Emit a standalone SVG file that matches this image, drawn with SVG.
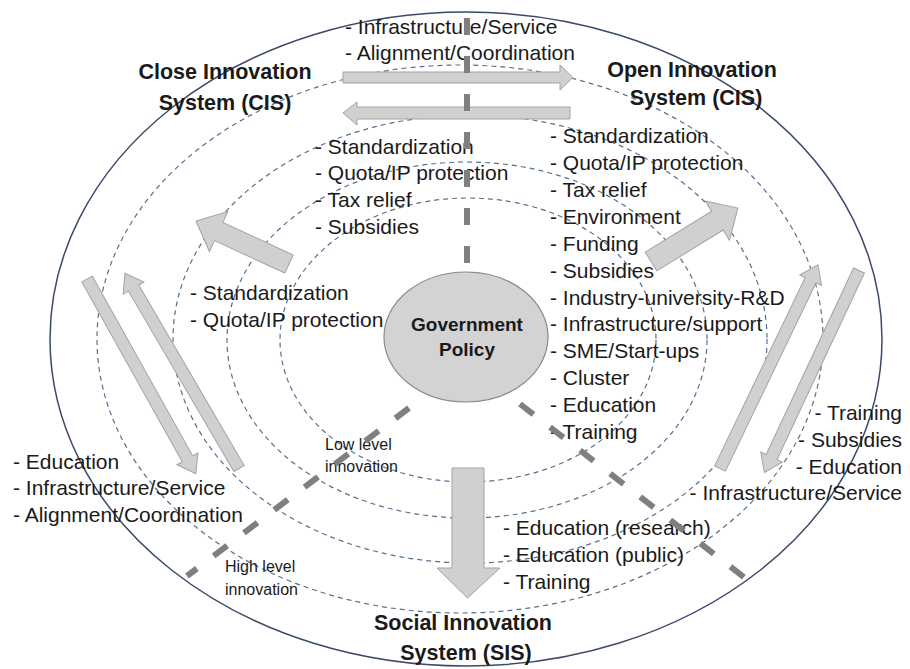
<svg xmlns="http://www.w3.org/2000/svg" width="910" height="669" viewBox="0 0 910 669">
<style>
.t{font-family:"Liberation Sans",Arial,sans-serif;font-size:21px;fill:#1a1a1a}
.b{font-weight:bold;font-size:21.5px;text-anchor:middle}
.g{font-weight:bold;font-size:19px;text-anchor:middle}
.s{font-size:16px}
.e{text-anchor:end}
.arr{fill:#d0d0d0;stroke:#a3a3a3;stroke-width:1}
.ring{fill:none;stroke:#56708f;stroke-width:1.2;stroke-dasharray:5 4}
.axis{fill:none;stroke:#7f7f7f;stroke-width:6;stroke-dasharray:17 21}
</style>
<rect width="910" height="669" fill="#ffffff"/>
<g id="rings">
<ellipse cx="466" cy="339" rx="416" ry="327" fill="none" stroke="#3b4a6b" stroke-width="1.5"/>
<ellipse class="ring" cx="460" cy="339" rx="363" ry="274"/>
<ellipse class="ring" cx="470" cy="339" rx="297" ry="224"/>
<ellipse class="ring" cx="467" cy="340" rx="240" ry="178"/>
<ellipse class="ring" cx="468" cy="340" rx="188" ry="142"/>
</g>
<g id="connectors">
<polygon class="arr" points="343,72 560,72 560,65 573,77.5 560,90 560,83 343,83"/>
<polygon class="arr" points="570,107 357,107 357,102 343,113 357,125 357,119 570,119"/>
<polygon class="arr" transform="translate(289,264) rotate(204.8)" points="0,-10 77.5,-10 77.5,-22 102.5,0 77.5,22 77.5,10 0,10"/>
<polygon class="arr" transform="translate(651,261.5) rotate(-31.6)" points="0,-11 78,-11 78,-23 102,0 78,23 78,11 0,11"/>
<polygon class="arr" transform="translate(87,279) rotate(60.8)" points="0,-6 206,-6 206,-12 223,0 206,12 206,6 0,6"/>
<polygon class="arr" transform="translate(239,468.5) rotate(239.7)" points="0,-6 209,-6 209,-12 226,0 209,12 209,6 0,6"/>
<polygon class="arr" transform="translate(720,468.5) rotate(-64.3)" points="0,-6 209,-6 209,-12 226,0 209,12 209,6 0,6"/>
<polygon class="arr" transform="translate(859,270.5) rotate(115.1)" points="0,-6 206,-6 206,-12 223,0 206,12 206,6 0,6"/>
<polygon class="arr" points="452,468 484,468 484,568 500,568 467.5,598 437,568 452,568"/>
</g>
<g id="gov">
<ellipse cx="466" cy="337" rx="82" ry="65" fill="#d3d3d3" stroke="#8a8a8a" stroke-width="1.2"/>
<text class="t g" x="467" y="331">Government</text>
<text class="t g" x="467" y="356">Policy</text>
</g>
<g id="cis-close">
<text class="t b" x="225" y="79">Close Innovation</text>
<text class="t b" x="225" y="110">System (CIS)</text>
</g>
<g id="cis-open">
<text class="t b" x="692" y="77">Open Innovation</text>
<text class="t b" x="696" y="105">System (CIS)</text>
</g>
<g id="sis">
<text class="t b" x="463" y="630">Social Innovation</text>
<text class="t b" x="466" y="660">System (SIS)</text>
</g>
<g id="labels">
<text class="t" x="345" y="34">- Infrastructure/Service</text>
<text class="t" x="345" y="60">- Alignment/Coordination</text>
<text class="t" x="315" y="154">- Standardization</text>
<text class="t" x="315" y="180">- Quota/IP protection</text>
<text class="t" x="315" y="207">- Tax relief</text>
<text class="t" x="315" y="234">- Subsidies</text>
<text class="t" x="550" y="143">- Standardization</text>
<text class="t" x="550" y="170">- Quota/IP protection</text>
<text class="t" x="550" y="197">- Tax relief</text>
<text class="t" x="550" y="224">- Environment</text>
<text class="t" x="550" y="251">- Funding</text>
<text class="t" x="550" y="278">- Subsidies</text>
<text class="t" x="550" y="305">- Industry-university-R&amp;D</text>
<text class="t" x="550" y="331">- Infrastructure/support</text>
<text class="t" x="550" y="358">- SME/Start-ups</text>
<text class="t" x="550" y="385">- Cluster</text>
<text class="t" x="550" y="412">- Education</text>
<text class="t" x="550" y="439">- Training</text>
<text class="t" x="190" y="300">- Standardization</text>
<text class="t" x="190" y="327">- Quota/IP protection</text>
<text class="t s" x="325" y="450">Low level</text>
<text class="t s" x="325" y="472">innovation</text>
<text class="t s" x="225" y="572">High level</text>
<text class="t s" x="225" y="595">innovation</text>
<text class="t" x="13" y="469">- Education</text>
<text class="t" x="13" y="495">- Infrastructure/Service</text>
<text class="t" x="13" y="522">- Alignment/Coordination</text>
<text class="t e" x="902" y="420">- Training</text>
<text class="t e" x="902" y="447">- Subsidies</text>
<text class="t e" x="902" y="474">- Education</text>
<text class="t e" x="902" y="500">- Infrastructure/Service</text>
<text class="t" x="503" y="535">- Education (research)</text>
<text class="t" x="503" y="562">- Education (public)</text>
<text class="t" x="503" y="589">- Training</text>
</g>
<g id="axes">
<line class="axis" x1="467" y1="18" x2="467" y2="272"/>
<line class="axis" x1="409" y1="408" x2="187" y2="576"/>
<line class="axis" x1="520" y1="404" x2="745" y2="578"/>
</g>
</svg>
